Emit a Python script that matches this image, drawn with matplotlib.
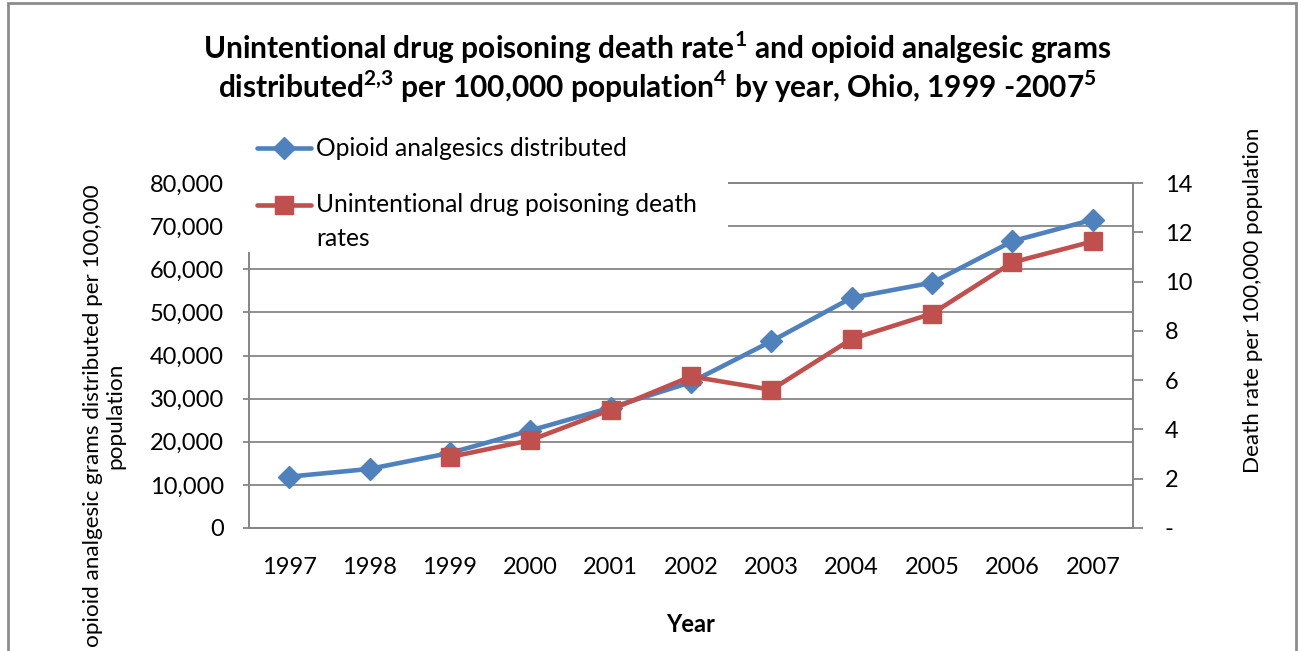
import matplotlib
matplotlib.use("Agg")
import matplotlib.pyplot as plt
from matplotlib.lines import Line2D
from matplotlib.patches import Rectangle
from matplotlib.ticker import FuncFormatter, FixedLocator

FONT = "Lato"
plt.rcParams['font.family'] = [FONT, 'DejaVu Sans']
plt.rcParams['mathtext.fontset'] = 'custom'
plt.rcParams['mathtext.rm'] = FONT
plt.rcParams['mathtext.bf'] = FONT + ':bold'

years = ["1997", "1998", "1999", "2000", "2001", "2002", "2003", "2004", "2005", "2006", "2007"]
opioid_grams = [11900, 13700, 17400, 22600, 27900, 33800, 43300, 53400, 56900, 66500, 71500]
death_years = ["1999", "2000", "2001", "2002", "2003", "2004", "2005", "2006", "2007"]
death_rates = [2.88, 3.56, 4.80, 6.15, 5.61, 7.67, 8.70, 10.78, 11.63]
left_ticks = [0, 10000, 20000, 30000, 40000, 50000, 60000, 70000, 80000]
right_ticks = [0, 2, 4, 6, 8, 10, 12, 14]

BLUE = "#4F81BD"
RED = "#C0504D"
GRAY = "#868686"

W, H = 1301, 651
fig = plt.figure(figsize=(W / 100, H / 100), dpi=100)

def fx(px):
    return px / W

def fy(py):
    return 1 - py / H

ax = fig.add_axes([fx(249), fy(528), fx(1133) - fx(249), fy(183) - fy(528)])
ax2 = ax.twinx()

x_idx = {y: i for i, y in enumerate(years)}
xs1 = [x_idx[y] for y in years]
xs2 = [x_idx[y] for y in death_years]

ax.plot(xs1, opioid_grams, color=BLUE, lw=3.3, marker="D", ms=11.5,
        mec=BLUE, mfc=BLUE, zorder=3, solid_joinstyle="round")
ax2.plot(xs2, death_rates, color=RED, lw=3.3, marker="s", ms=12.5,
         mec=RED, mfc=RED, zorder=3, solid_joinstyle="round")

ax.set_xlim(-0.5, len(years) - 0.5)
ax.set_ylim(0, 80000)
ax2.set_ylim(0, 14)

ax.set_xticks(xs1)
ax.set_xticklabels(years)
ax.yaxis.set_major_locator(FixedLocator(left_ticks))
ax.yaxis.set_major_formatter(FuncFormatter(lambda v, p: f"{int(v):,}"))
ax2.yaxis.set_major_locator(FixedLocator(right_ticks))
ax2.yaxis.set_major_formatter(FuncFormatter(lambda v, p: "-" if v == 0 else f"{int(v)}"))

ax.grid(axis="y", color=GRAY, lw=1.3)
ax.set_axisbelow(True)

for a in (ax, ax2):
    for s in a.spines.values():
        s.set_color(GRAY)
        s.set_linewidth(1.3)
    a.spines["top"].set_visible(True)

TS = 17
ax.tick_params(axis="x", length=0, pad=21, labelsize=TS, colors="black")
ax.tick_params(axis="y", length=4, width=1.3, color=GRAY, pad=14, labelsize=TS, labelcolor="black")
ax2.tick_params(axis="y", length=7, width=1.3, color=GRAY, pad=16, labelsize=TS, labelcolor="black")

# Axis titles
fig.text(fx(104), fy(416), "opioid analgesic grams distributed per 100,000\npopulation",
         rotation=90, ha="center", va="center", fontsize=16.2, linespacing=1.15)
fig.text(fx(1253), fy(300), "Death rate per 100,000 population", rotation=90,
         ha="center", va="center", fontsize=16.2)
fig.text(fx(691), fy(624), "Year", ha="center", va="center", fontsize=17, fontweight="bold")

# Title
fig.text(fx(657), fy(48), r"Unintentional drug poisoning death rate$^{\mathbf{1}}$ and opioid analgesic grams",
         ha="center", va="center", fontsize=21.5, fontweight="bold")
fig.text(fx(657), fy(87), r"distributed$^{\mathbf{2{,}3}}$ per 100,000 population$^{\mathbf{4}}$ by year, Ohio, 1999 -2007$^{\mathbf{5}}$",
         ha="center", va="center", fontsize=21.5, fontweight="bold")

# Legend (white box overlapping the top-left of the plot area)
bg = Rectangle((fx(240), fy(252)), fx(728) - fx(240), fy(125) - fy(252),
               transform=fig.transFigure, facecolor="white", edgecolor="none", zorder=5)
fig.add_artist(bg)
legend_items = [
    ("Opioid analgesics distributed", BLUE, "D", 11.5, 148, None),
    ("Unintentional drug poisoning death", RED, "s", 12.5, 205, "rates"),
]
for label, col, mk, ms, ypx, cont in legend_items:
    fig.add_artist(Line2D([fx(257), fx(311)], [fy(ypx), fy(ypx)], transform=fig.transFigure,
                          color=col, lw=3.3, zorder=6, solid_capstyle="round"))
    fig.add_artist(Line2D([fx(284)], [fy(ypx)], transform=fig.transFigure, color=col,
                          marker=mk, ms=ms, mec=col, mfc=col, zorder=7))
    fig.text(fx(316), fy(ypx), label, ha="left", va="center", fontsize=17.7, zorder=8)
    if cont:
        fig.text(fx(316), fy(ypx + 33), cont, ha="left", va="center", fontsize=17.7, zorder=8)

# Outer chart border
border = Rectangle((fx(8), fy(700)), fx(1296) - fx(8), fy(3) - fy(700),
                   transform=fig.transFigure, facecolor="none", edgecolor="#8c8c8c", lw=2, zorder=10)
fig.add_artist(border)

fig.savefig("out.png", dpi=100)
